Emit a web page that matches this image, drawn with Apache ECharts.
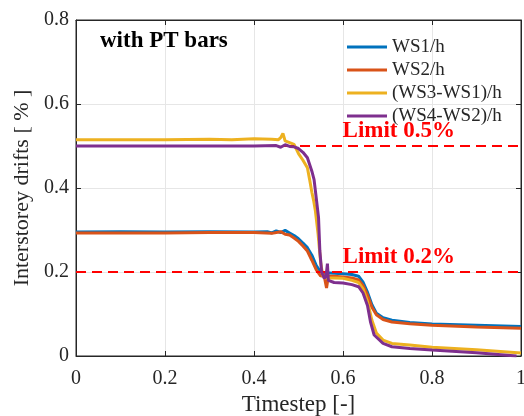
<!DOCTYPE html>
<html>
<head>
<meta charset="utf-8">
<script src="https://cdn.jsdelivr.net/npm/echarts@6/dist/echarts.min.js"></script>
<style>
  html, body { margin: 0; padding: 0; background: #fff; }
  #main { width: 524px; height: 416px; }
</style>
</head>
<body>
<div id="main"></div>
<script>
var FONT = "Liberation Serif"
var TXT = '#262626'

var seriesNames = ['WS1/h', 'WS2/h', '(WS3-WS1)/h', '(WS4-WS2)/h']
var colors = ['#0072BD', '#D95319', '#EDB120', '#7E2F8E']
var limits = [0.5, 0.2]
var limitLabels = ['Limit 0.5%', 'Limit 0.2%']

// [timestep, drift]
var ws1 = [
  [0, 0.295], [0.1, 0.296], [0.2, 0.295], [0.3, 0.296], [0.4, 0.295], [0.43, 0.296],
  [0.44, 0.293], [0.45, 0.298], [0.46, 0.294], [0.47, 0.299], [0.48, 0.293], [0.49, 0.287],
  [0.5, 0.279], [0.51, 0.269], [0.52, 0.258], [0.53, 0.24], [0.54, 0.215], [0.55, 0.2],
  [0.56, 0.198], [0.58, 0.197], [0.6, 0.196], [0.62, 0.194], [0.635, 0.19], [0.645, 0.176],
  [0.655, 0.152], [0.665, 0.122], [0.675, 0.102], [0.69, 0.091], [0.71, 0.085],
  [0.75, 0.08], [0.8, 0.076], [0.9, 0.073], [1.0, 0.07]
]
var ws2 = [
  [0, 0.293], [0.1, 0.293], [0.2, 0.293], [0.3, 0.294], [0.4, 0.294], [0.44, 0.292],
  [0.46, 0.296], [0.47, 0.29], [0.48, 0.288], [0.49, 0.281], [0.5, 0.273], [0.51, 0.262],
  [0.52, 0.25], [0.53, 0.228], [0.54, 0.205], [0.55, 0.19], [0.557, 0.195], [0.563, 0.162],
  [0.567, 0.19], [0.58, 0.19], [0.6, 0.188], [0.62, 0.186], [0.635, 0.181], [0.645, 0.168],
  [0.655, 0.145], [0.665, 0.116], [0.675, 0.098], [0.69, 0.087], [0.71, 0.081],
  [0.75, 0.077], [0.8, 0.073], [0.9, 0.069], [1.0, 0.066]
]
var ws3 = [
  [0, 0.515], [0.1, 0.515], [0.2, 0.515], [0.3, 0.516], [0.35, 0.515], [0.4, 0.517],
  [0.44, 0.516], [0.455, 0.515], [0.46, 0.52], [0.465, 0.53], [0.47, 0.512], [0.48, 0.508],
  [0.49, 0.504], [0.5, 0.482], [0.51, 0.466], [0.52, 0.448], [0.525, 0.42], [0.53, 0.39],
  [0.534, 0.37], [0.538, 0.345], [0.544, 0.29], [0.55, 0.22], [0.555, 0.19], [0.56, 0.186],
  [0.58, 0.186], [0.6, 0.185], [0.62, 0.18], [0.635, 0.175], [0.645, 0.16], [0.655, 0.13],
  [0.665, 0.085], [0.675, 0.055], [0.69, 0.038], [0.71, 0.03], [0.75, 0.026],
  [0.8, 0.021], [0.9, 0.015], [1.0, 0.007]
]
var ws4 = [
  [0, 0.5], [0.1, 0.5], [0.2, 0.5], [0.3, 0.5], [0.4, 0.5], [0.45, 0.501], [0.46, 0.497],
  [0.47, 0.503], [0.48, 0.499], [0.49, 0.498], [0.5, 0.494], [0.51, 0.485], [0.52, 0.472],
  [0.53, 0.44], [0.535, 0.42], [0.54, 0.375], [0.545, 0.33], [0.548, 0.25], [0.552, 0.2],
  [0.558, 0.185], [0.562, 0.19], [0.565, 0.22], [0.567, 0.18], [0.58, 0.175], [0.6, 0.174],
  [0.62, 0.17], [0.635, 0.165], [0.645, 0.15], [0.655, 0.12], [0.662, 0.08], [0.67, 0.05],
  [0.69, 0.03], [0.71, 0.022], [0.75, 0.018], [0.8, 0.014], [0.9, 0.008], [0.99, 0.0]
]
var allData = [ws1, ws2, ws3, ws4]

var chart = echarts.init(document.getElementById('main'), null, { renderer: 'canvas' })

var tickLabel = {
  fontFamily: FONT,
  fontSize: 20,
  color: TXT
}

function axisBase (extra) {
  return Object.assign({
    type: 'value',
    axisLine: { show: true, onZero: false, lineStyle: { color: TXT, width: 1 } },
    axisTick: { show: true, inside: true, length: 5, lineStyle: { color: TXT } },
    splitLine: { show: false }
  }, extra)
}

var series = seriesNames.map(function (name, i) {
  var s = {
    name: name,
    type: 'line',
    data: allData[i],
    showSymbol: false,
    symbol: 'none',
    lineStyle: { color: colors[i], width: 3 },
    itemStyle: { color: colors[i] },
    z: 2 + i
  }
  if (i === 3) {
    s.markLine = {
      silent: true,
      symbol: 'none',
      label: { show: false },
      lineStyle: { color: '#ff0000', width: 2, type: [10, 6] },
      data: limits.map(function (v) { return { yAxis: v } })
    }
  }
  return s
})

var option = {
  animation: false,
  backgroundColor: '#fff',
  textStyle: { fontFamily: FONT },
  grid: {
    left: 76, right: 3, top: 20, bottom: 60,
    outerBoundsMode: 'none', containLabel: false,
    show: true, borderColor: TXT, borderWidth: 1
  },
  legend: {
    orient: 'vertical',
    left: 342,
    top: 32,
    icon: 'rect',
    itemWidth: 40,
    itemHeight: 3,
    itemGap: 3,
    data: seriesNames,
    textStyle: { fontFamily: FONT, fontSize: 19, color: TXT, lineHeight: 20 }
  },
  xAxis: [
    axisBase({
      min: 0, max: 1, interval: 0.2,
      name: 'Timestep [-]',
      nameLocation: 'middle',
      nameGap: 36,
      nameTextStyle: { fontFamily: FONT, fontSize: 23, color: TXT },
      axisLabel: Object.assign({ margin: 13 }, tickLabel),
      splitLine: { show: true, lineStyle: { color: '#e6e6e6', width: 1 } }
    }),
    axisBase({ min: 0, max: 1, interval: 0.2, position: 'top', axisLabel: { show: false } })
  ],
  yAxis: [
    axisBase({
      min: 0, max: 0.8, interval: 0.2,
      name: 'Interstorey drifts [ % ]',
      nameLocation: 'middle',
      nameGap: 31,
      nameTextStyle: { fontFamily: FONT, fontSize: 22, color: TXT },
      axisLabel: Object.assign({ margin: 7 }, tickLabel),
      splitLine: { show: true, lineStyle: { color: '#e6e6e6', width: 1 } }
    }),
    axisBase({ min: 0, max: 0.8, interval: 0.2, position: 'right', axisLabel: { show: false } })
  ],
  series: series
}

chart.setOption(option)

// annotations placed from the limit values
var graphics = [{
  type: 'text',
  left: 100,
  top: 30,
  style: { text: 'with PT bars', font: 'bold 23px "Liberation Serif"', fill: '#000' },
  z: 20
}]
limits.forEach(function (v, i) {
  var y = chart.convertToPixel({ yAxisIndex: 0 }, v)
  graphics.push({
    type: 'text',
    x: 455,
    y: y - 3,
    style: {
      text: limitLabels[i],
      font: 'bold 23px "Liberation Serif"',
      fill: '#ff0000',
      align: 'right',
      verticalAlign: 'bottom'
    },
    z: 20
  })
})
chart.setOption({ graphic: graphics })
</script>
</body>
</html>
